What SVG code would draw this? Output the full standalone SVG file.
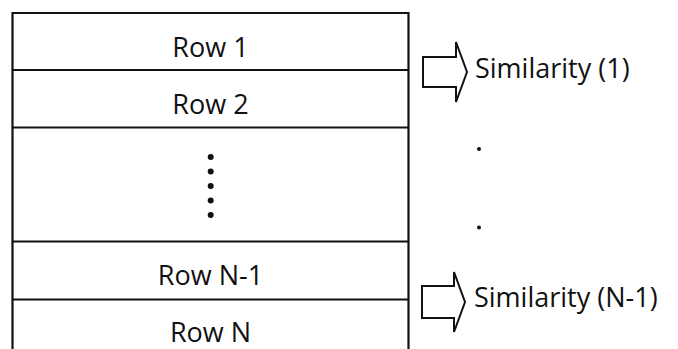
<svg xmlns="http://www.w3.org/2000/svg" width="678" height="349" viewBox="0 0 678 349">
<style>
.ln{stroke:#111;stroke-width:2.2;fill:none}
.t{font-family:"Open Sans","Noto Sans","Liberation Sans",sans-serif;font-size:27px;fill:#111}
.c{text-anchor:middle}
.arr{fill:#fff;stroke:#111;stroke-width:2;stroke-linejoin:miter}
.dot{fill:#111}
</style>
<rect width="678" height="349" fill="#fff"/>
<g id="table">
<path class="ln" d="M12.5,360 V13 H408.5 V360"/>
</g>
<g id="row1">
<text class="t c" x="210.5" y="56.5">Row 1</text>
<line class="ln" x1="12.5" y1="70" x2="408.5" y2="70"/>
</g>
<g id="row2">
<text class="t c" x="210.5" y="114">Row 2</text>
<line class="ln" x1="12.5" y1="127.5" x2="408.5" y2="127.5"/>
</g>
<g id="ellipsis">
<circle class="dot" cx="210.7" cy="157" r="3"/>
<circle class="dot" cx="210.7" cy="171.5" r="3"/>
<circle class="dot" cx="210.7" cy="186" r="3"/>
<circle class="dot" cx="210.7" cy="200.5" r="3"/>
<circle class="dot" cx="210.7" cy="215" r="3"/>
<line class="ln" x1="12.5" y1="241.5" x2="408.5" y2="241.5"/>
</g>
<g id="rowN-1">
<text class="t c" x="210.5" y="285">Row N-1</text>
<line class="ln" x1="12.5" y1="299.5" x2="408.5" y2="299.5"/>
</g>
<g id="rowN">
<text class="t c" x="210.5" y="342">Row N</text>
</g>
<g id="connectors">
<path class="arr" d="M423,57 H456 V42 L467,72 L456,102 V87 H423 Z"/>
<path class="arr" d="M422,286 H454 V272 L465,302 L454,332 V318 H422 Z"/>
</g>
<g id="sim1">
<text class="t" x="475" y="78">Similarity (1)</text>
</g>
<g id="vdots">
<circle class="dot" cx="479" cy="149" r="2"/>
<circle class="dot" cx="479" cy="227.5" r="2"/>
</g>
<g id="simN-1">
<text class="t" x="474" y="307">Similarity (N-1)</text>
</g>
</svg>
